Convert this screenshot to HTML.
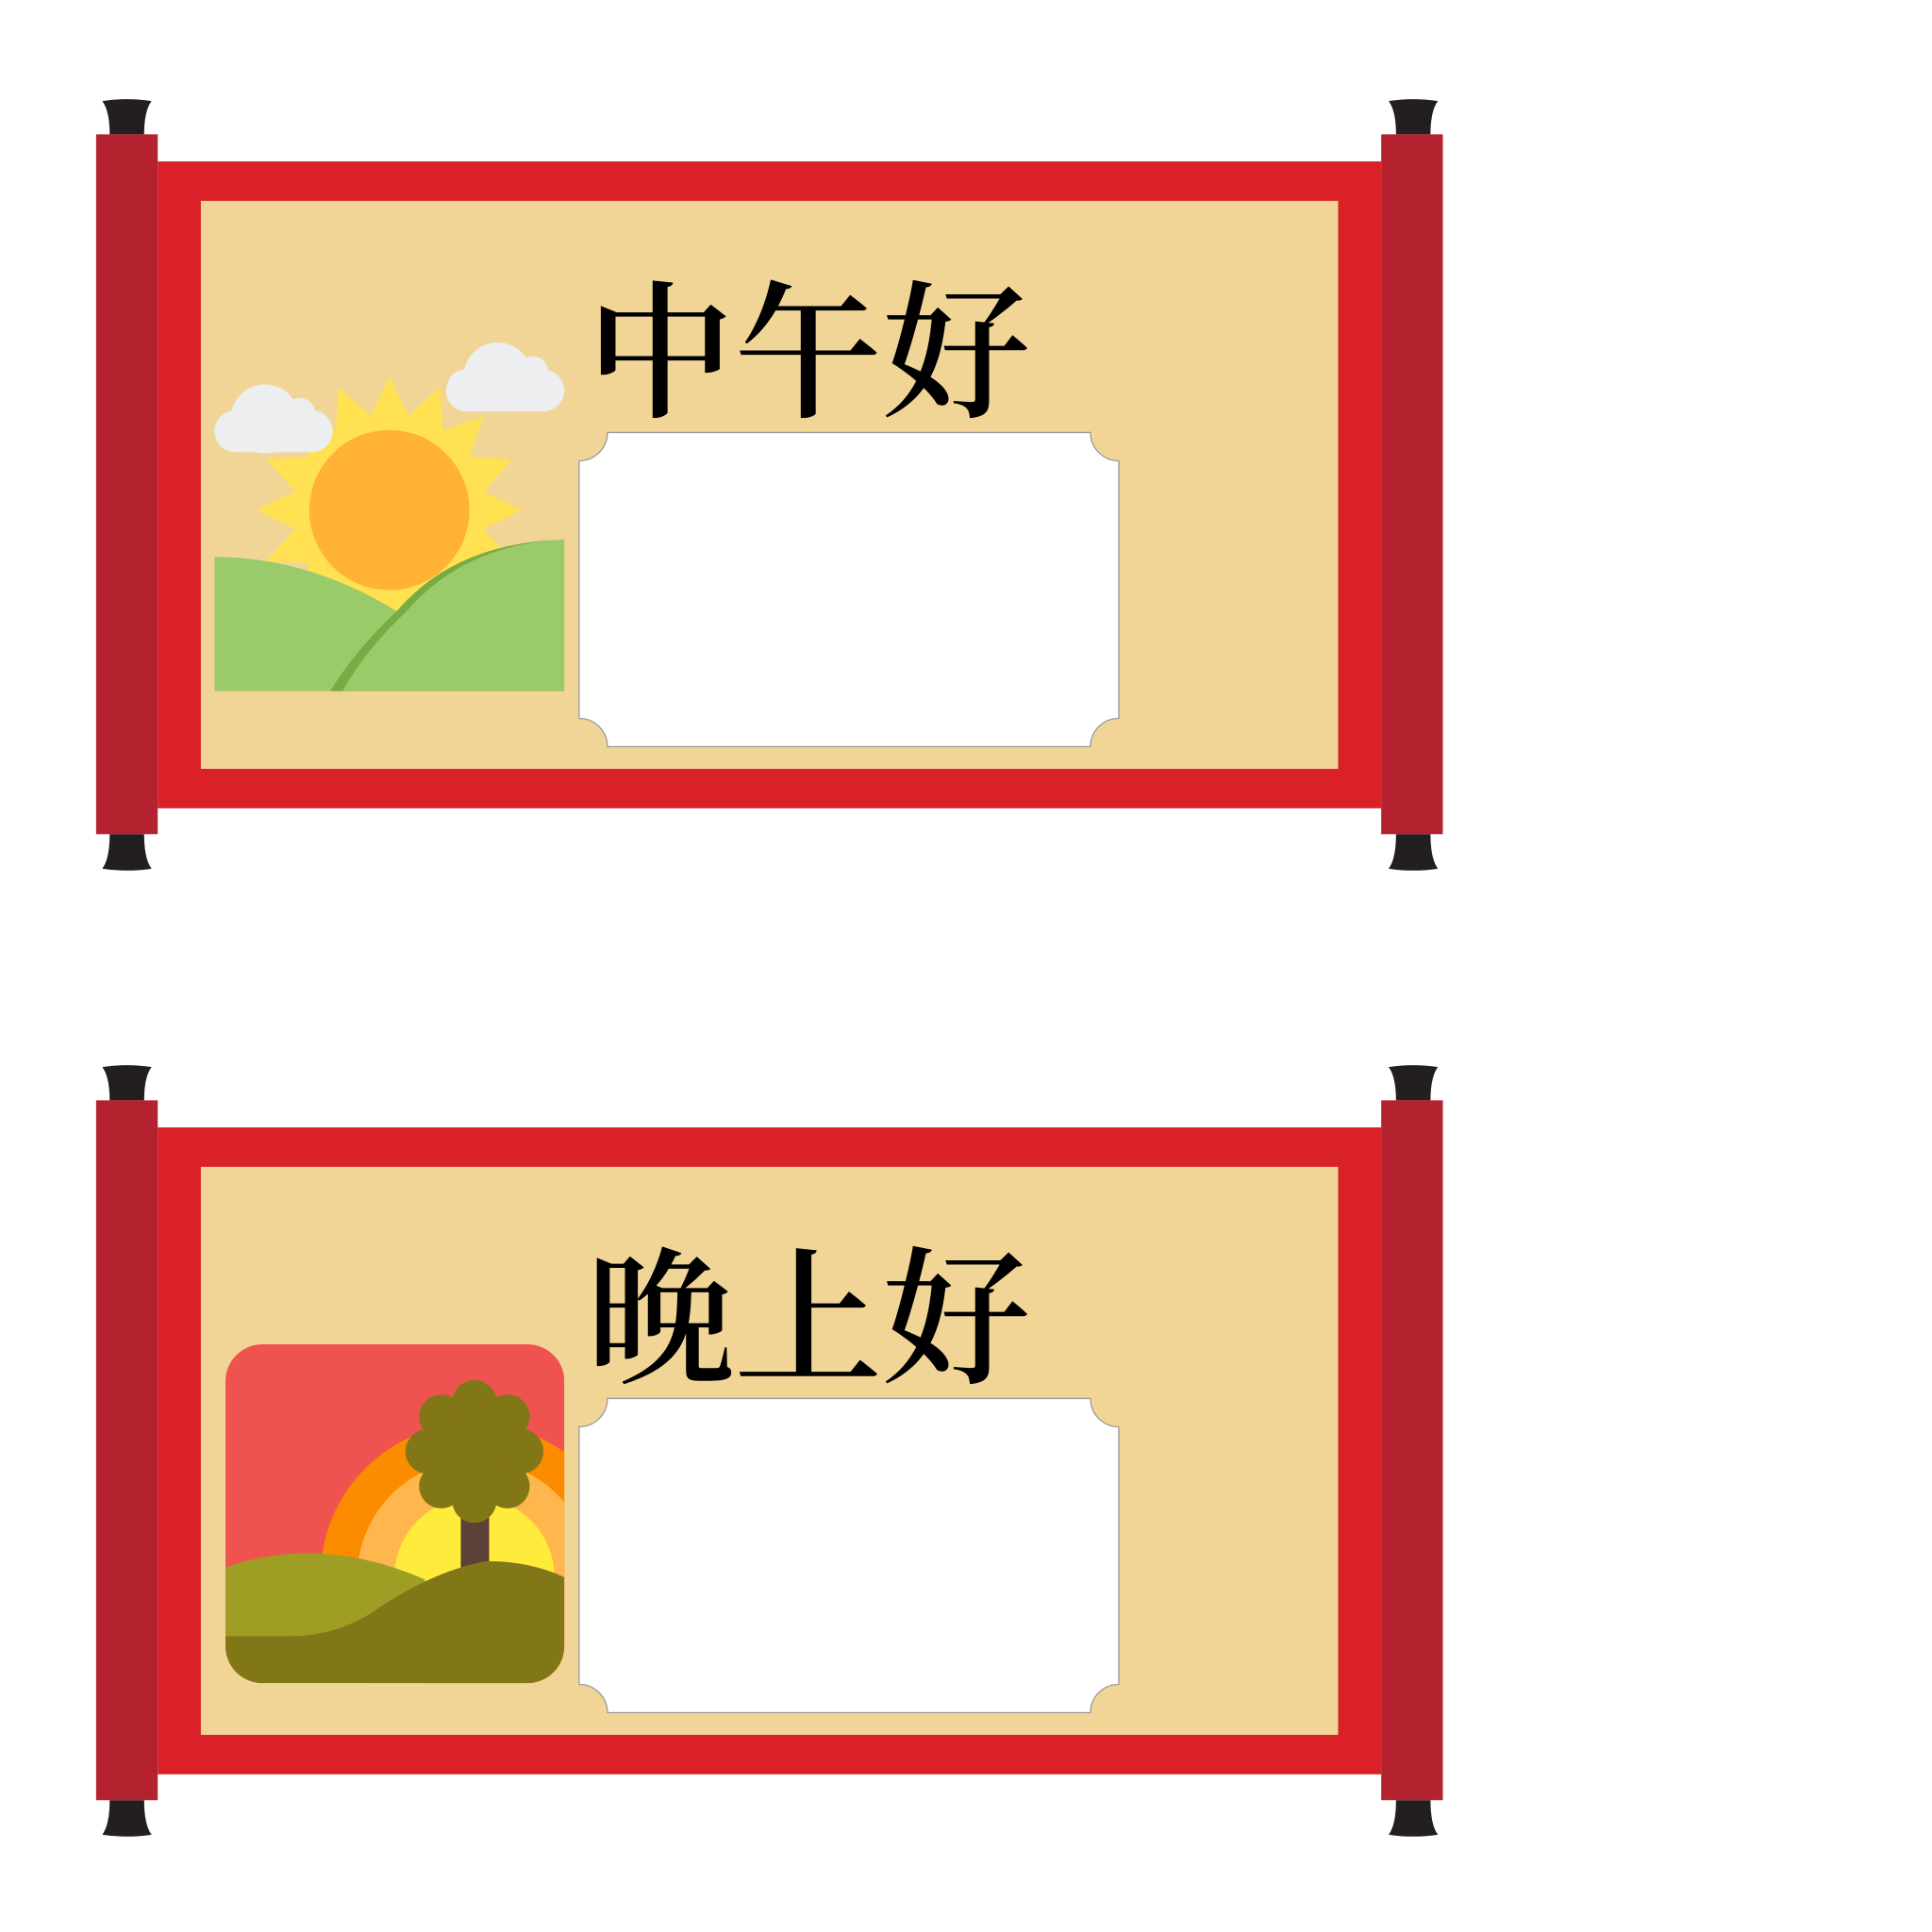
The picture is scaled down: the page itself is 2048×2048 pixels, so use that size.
<!DOCTYPE html>
<html><head><meta charset="utf-8"><style>
html,body{margin:0;padding:0;background:#fff;}
svg{display:block;}
text{font-family:"Liberation Serif","Noto Serif CJK SC",serif;}
</style></head><body>
<svg id="s" width="2048" height="2048" viewBox="0 0 1568 1568" xmlns="http://www.w3.org/2000/svg">
<defs>
<clipPath id="c1"><rect x="174" y="280" width="284" height="281"/></clipPath>
<clipPath id="c2"><rect x="183" y="1091" width="275" height="275" rx="30"/></clipPath>
</defs>
<g id="scrolls"></g>
<g clip-path="url(#c1)">
  <polygon id="rays" fill="#FFE152"/>
  <circle cx="316" cy="414" r="65" fill="#FFB236"/>
  <path d="M174,452 Q250,452 322,496 L280,561 L174,561 Z" fill="#9ACA6A"/>
  <path d="M458,438 Q370,440 322,496 Q288,528 268,561 L458,561 Z" fill="#78AB41"/>
  <path d="M458,438 Q378,441 330,496 Q296,528 278,561 L458,561 Z" fill="#9ACA6A"/>
</g>
<g fill="#ECEEF0">
  <rect x="174" y="333" width="96" height="34" rx="17"/>
  <circle cx="215" cy="340" r="28"/><circle cx="243" cy="336" r="13"/><circle cx="189" cy="348" r="14"/>
</g>
<g fill="#ECEEF0">
  <rect x="362" y="300" width="96" height="34" rx="17"/>
  <circle cx="404" cy="306" r="28"/><circle cx="432" cy="302" r="13"/><circle cx="377" cy="314" r="14"/>
</g>
<g clip-path="url(#c2)">
  <rect x="183" y="1091" width="275" height="275" fill="#EF5350"/>
  <circle cx="385" cy="1280" r="125" fill="#FB8C00"/>
  <circle cx="385" cy="1280" r="95" fill="#FFB74D"/>
  <circle cx="385" cy="1280" r="65" fill="#FFEB3B"/>
  <rect x="374" y="1195" width="23" height="90" fill="#5D4037"/>
  <g id="canopy" fill="#827717"></g>
  <path d="M183,1272 Q260,1245 345,1282 L330,1330 L183,1330 Z" fill="#9E9D24"/>
  <path d="M183,1328 L235,1328 Q270,1328 300,1310 Q350,1275 395,1267 Q430,1267 458,1280 L458,1366 L183,1366 Z" fill="#827717"/>
</g>
</svg>
<script>
const NS="http://www.w3.org/2000/svg";
const titles=["中午好","晚上好"];
const offsets=[0,784];
const g=document.getElementById('scrolls');
function mk(tag,attrs,parent){const e=document.createElementNS(NS,tag);for(const k in attrs)e.setAttribute(k,attrs[k]);parent.appendChild(e);return e;}
titles.forEach((t,i)=>{
  const dy=offsets[i];
  const sg=mk('g',{transform:'translate(0,'+dy+')'},g);
  
  
  [[103,82,109,1],[103,705,677,-1],[1147,82,109,1],[1147,705,677,-1]].forEach(c=>{
    const [cx,y0,y1,d]=c;
    const p=mk('path',{d:`M${cx-20},${y0} Q${cx},${y0-3*d} ${cx+20},${y0} Q${cx+14},${y0+8*d} ${cx+14},${y1} L${cx-14},${y1} Q${cx-14},${y0+8*d} ${cx-20},${y0} Z`,fill:'#231F20'},sg);
    
    
  });
  const band=mk('rect',{x:128,y:131,width:993,height:525,fill:'#DA2128'},sg);
  
  
  const paper=mk('rect',{x:163,y:163,width:923,height:461,fill:'#F0D596'},sg);
  
  
  const r1=mk('rect',{x:78,y:109,width:50,height:568,fill:'#B3222E'},sg);
  
  
  const r2=mk('rect',{x:1121,y:109,width:50,height:568,fill:'#B3222E'},sg);
  
  
  const L=470,R=908,T=351,B=606,r=23;
  const card=mk('path',{d:`M${L+r},${T} L${R-r},${T} A${r},${r} 0 0 0 ${R},${T+r} L${R},${B-r} A${r},${r} 0 0 0 ${R-r},${B} L${L+r},${B} A${r},${r} 0 0 0 ${L},${B-r} L${L},${T+r} A${r},${r} 0 0 0 ${L+r},${T} Z`,fill:'#fff',stroke:'#9a9a9a','stroke-width':1},sg);
  
  
  const tx=mk('text',{x:656,y:329,'font-size':120,'font-weight':600,'text-anchor':'middle',fill:'#000'},sg);
  tx.textContent=t;
  
  
});
const pts=[];const n=16;
for(let k=0;k<2*n;k++){const a=-Math.PI/2+k*Math.PI/n;const rr=k%2?78:108;pts.push((316+rr*Math.cos(a)).toFixed(1)+','+(414+rr*Math.sin(a)).toFixed(1));}
document.getElementById('rays').setAttribute('points',pts.join(' '));
const cg=document.getElementById('canopy');
mk('circle',{cx:385,cy:1178,r:40},cg);
for(let k=0;k<8;k++){const a=k*Math.PI/4;mk('circle',{cx:385+38*Math.cos(a),cy:1178+38*Math.sin(a)*1.05,r:18},cg);}
</script>
</body></html>
